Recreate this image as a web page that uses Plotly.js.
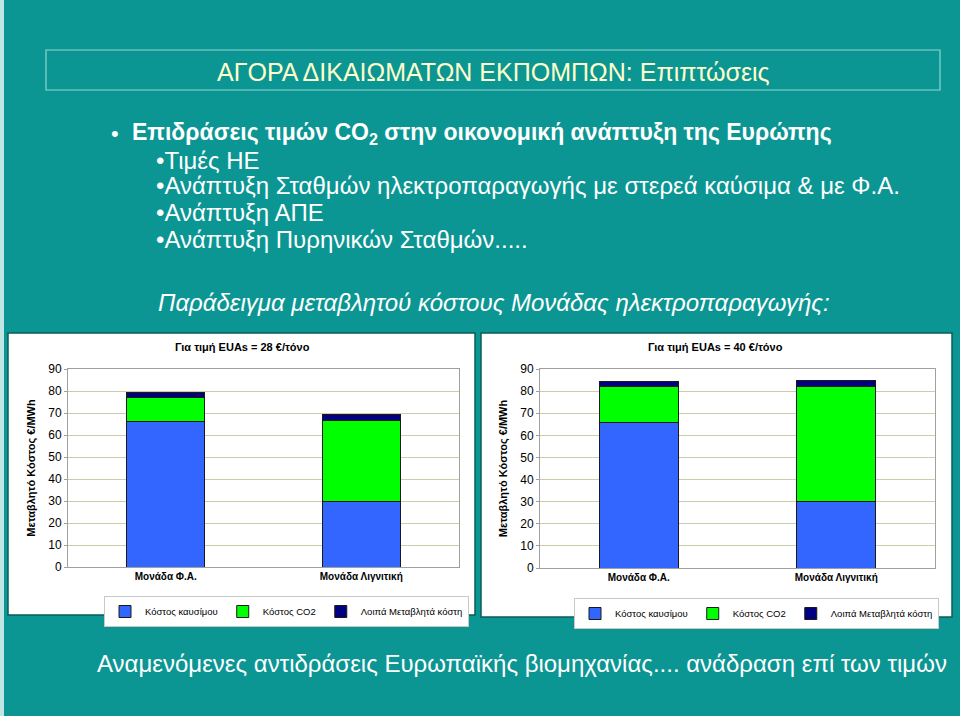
<!DOCTYPE html>
<html>
<head>
<meta charset="utf-8">
<script src="https://cdn.plot.ly/plotly-3.0.1.min.js"></script>
<style>html,body{margin:0;padding:0;background:#0c9693;overflow:hidden;}#chart{width:960px;height:716px;}</style>
</head>
<body>
<div id="chart"></div>
<script>
// ---- data ----
var categories = ['Μονάδα Φ.Α.', 'Μονάδα Λιγνιτική'];
var fuelCost = [66, 30];
var co2Cost28 = [11.2, 36.4];
var co2Cost40 = [16, 52];
var otherCost = [2.2, 2.8];
var seriesNames = ['Κόστος καυσίμου', 'Κόστος CO2', 'Λοιπά Μεταβλητά κόστη'];
var chartTitles = ['Για τιμή EUAs = 28 €/τόνο', 'Για τιμή EUAs = 40 €/τόνο'];
var yTitle = 'Μεταβλητό Κόστος €/MWh';
var yTicks = [0, 10, 20, 30, 40, 50, 60, 70, 80, 90];

// ---- helpers ----
var W = 960, H = 716;
function px(x) { return x / W; }
function py(y) { return 1 - y / H; }

var colors = ['#3366FF', '#00FF00', '#000080'];
var FONT = 'Arial, "Liberation Sans", sans-serif';

function barTrace(name, y, color, xa, ya, leg) {
  return {
    type: 'bar', name: name, x: categories, y: y,
    xaxis: xa, yaxis: ya, legend: leg,
    marker: { color: color, line: { color: '#1a1a1a', width: 1 } },
    hoverinfo: 'none'
  };
}

var data = [
  barTrace(seriesNames[0], fuelCost, colors[0], 'x', 'y', 'legend'),
  barTrace(seriesNames[1], co2Cost28, colors[1], 'x', 'y', 'legend'),
  barTrace(seriesNames[2], otherCost, colors[2], 'x', 'y', 'legend'),
  barTrace(seriesNames[0], fuelCost, colors[0], 'x2', 'y2', 'legend2'),
  barTrace(seriesNames[1], co2Cost40, colors[1], 'x2', 'y2', 'legend2'),
  barTrace(seriesNames[2], otherCost, colors[2], 'x2', 'y2', 'legend2')
];

function yAxis(domain, anchor) {
  return {
    domain: domain, anchor: anchor, range: [0, 90], tickvals: yTicks,
    showgrid: true, gridcolor: '#CFCBA8', gridwidth: 1,
    showline: true, linecolor: '#A0A0A0', mirror: true,
    ticks: 'outside', ticklen: 3, tickcolor: '#A0A0A0',
    tickfont: { family: FONT, size: 12, color: '#000' },
    zeroline: false, fixedrange: true,
    title: { text: yTitle, font: { family: FONT, size: 11, color: '#000', weight: 'bold' }, standoff: 10 }
  };
}
function xAxis(domain, anchor) {
  return {
    domain: domain, anchor: anchor, type: 'category',
    showline: true, linecolor: '#A0A0A0', mirror: true,
    ticks: '', showgrid: false, fixedrange: true,
    tickfont: { family: FONT, size: 10, color: '#000', weight: 'bold' }
  };
}

function ann(text, x, y, size, opts) {
  var a = {
    text: text, x: px(x), y: py(y), xref: 'paper', yref: 'paper',
    xanchor: 'left', yanchor: 'middle', showarrow: false,
    font: { family: FONT, size: size, color: '#FFFFFF' }
  };
  if (opts) { for (var k in opts) { if (k === 'font') { for (var f in opts.font) a.font[f] = opts.font[f]; } else a[k] = opts[k]; } }
  return a;
}

var annotations = [
  ann('ΑΓΟΡΑ ΔΙΚΑΙΩΜΑΤΩΝ ΕΚΠΟΜΠΩΝ: Επιπτώσεις', 493, 72, 25, { xanchor: 'center', font: { color: '#FFFFCC' } }),
  ann('•', 109, 133, 22),
  ann('Επιδράσεις τιμών CO<sub>2</sub> στην οικονομική ανάπτυξη της Ευρώπης', 130, 133, 23, { font: { weight: 'bold' } }),
  ann('•Τιμές ΗΕ', 154, 160, 24),
  ann('•Ανάπτυξη Σταθμών ηλεκτροπαραγωγής με στερεά καύσιμα & με Φ.Α.', 154, 186, 24),
  ann('•Ανάπτυξη ΑΠΕ', 154, 213, 24),
  ann('•Ανάπτυξη Πυρηνικών Σταθμών.....', 154, 240, 24),
  ann('Παράδειγμα μεταβλητού κόστους Μονάδας ηλεκτροπαραγωγής:', 156, 302, 24, { font: { style: 'italic' } }),
  ann('Αναμενόμενες αντιδράσεις Ευρωπαϊκής βιομηχανίας.... ανάδραση επί των τιμών', 95, 663, 24),
  ann(chartTitles[0], 242, 347, 11, { xanchor: 'center', font: { color: '#000', weight: 'bold' } }),
  ann(chartTitles[1], 715, 347, 11, { xanchor: 'center', font: { color: '#000', weight: 'bold' } })
];

var shapes = [
  { type: 'rect', xref: 'paper', yref: 'paper', x0: 0, x1: px(4), y0: 0, y1: 1, fillcolor: '#bfe6e4', line: { width: 0 }, layer: 'below' },
  { type: 'rect', xref: 'paper', yref: 'paper', x0: px(46), x1: px(940), y0: py(90), y1: py(50), fillcolor: 'rgba(0,0,0,0)', line: { color: '#8fd6d3', width: 1.2 }, layer: 'below' },
  { type: 'rect', xref: 'paper', yref: 'paper', x0: px(8), x1: px(475), y0: py(615), y1: py(333), fillcolor: '#FFFFFF', line: { color: '#0a5c5a', width: 1.5 }, layer: 'below' },
  { type: 'rect', xref: 'paper', yref: 'paper', x0: px(481), x1: px(952), y0: py(617), y1: py(333), fillcolor: '#FFFFFF', line: { color: '#0a5c5a', width: 1.5 }, layer: 'below' }
];

function legendCfg(x, y) {
  return {
    orientation: 'h', x: px(x), y: py(y), xref: 'paper', yref: 'paper',
    xanchor: 'left', yanchor: 'top', traceorder: 'normal',
    bgcolor: '#FFFFFF', bordercolor: '#C8C8C8', borderwidth: 1,
    font: { family: FONT, size: 9.5, color: '#000' },
    itemwidth: 30, tracegroupgap: 0,
    itemclick: false, itemdoubleclick: false
  };
}

var layout = {
  width: W, height: H,
  margin: { l: 0, r: 0, t: 0, b: 0, autoexpand: false },
  paper_bgcolor: '#0c9693',
  plot_bgcolor: '#FFFFCC',
  barmode: 'stack', bargap: 0.6,
  showlegend: true,
  xaxis: xAxis([px(68), px(459)], 'y'),
  yaxis: yAxis([py(567), py(369)], 'x'),
  xaxis2: xAxis([px(540), px(935)], 'y2'),
  yaxis2: yAxis([py(568), py(369)], 'x2'),
  legend: legendCfg(104, 596),
  legend2: legendCfg(574, 598),
  annotations: annotations,
  shapes: shapes,
  font: { family: FONT }
};

Plotly.newPlot('chart', data, layout, { displayModeBar: false, staticPlot: true });
</script>
</body>
</html>
